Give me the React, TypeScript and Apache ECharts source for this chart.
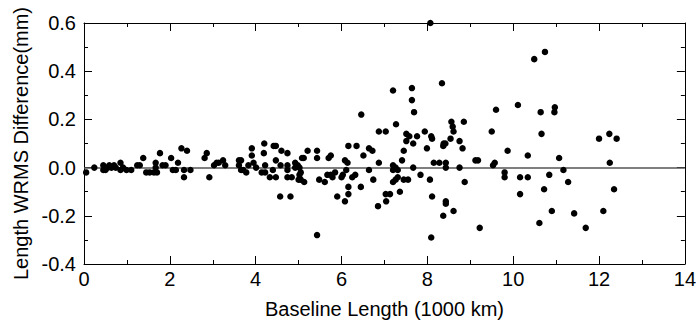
import React, { useEffect, useRef } from "react";
import * as echarts from "echarts";

// [baseline length (1000 km), length WRMS difference (mm)]
const pointsUnder2: [number, number][] = [
  [0.05, -0.02], [0.24, 0.0], [0.45, 0.01], [0.45, -0.01], [0.5, -0.01], [0.55, 0.0],
  [0.59, 0.01], [0.64, 0.0], [0.7, 0.01], [0.74, 0.0], [0.85, 0.02], [0.85, -0.01],
  [0.91, 0.0], [0.99, -0.01], [1.1, -0.01], [1.24, 0.01], [1.3, 0.01], [1.38, 0.04],
  [1.45, -0.02], [1.53, -0.02], [1.63, -0.02], [1.67, 0.02], [1.67, 0.0], [1.77, 0.06],
  [1.7, -0.02], [1.83, 0.01], [1.9, 0.01], [2.03, 0.04], [2.07, -0.01], [2.19, 0.02],
  [2.14, -0.01],
];
const points2to4: [number, number][] = [
  [2.27, 0.08], [2.4, 0.07], [2.33, -0.01], [2.48, -0.01], [2.33, -0.04], [2.81, 0.04],
  [2.86, 0.06], [2.92, -0.04], [3.03, 0.01], [3.09, 0.02], [3.14, 0.02], [3.24, 0.03],
  [3.29, 0.01], [3.61, 0.03], [3.66, 0.03], [3.61, 0.01], [3.66, -0.01], [3.71, -0.01],
  [3.78, -0.02], [3.83, 0.01], [3.91, 0.08], [3.91, 0.05], [3.95, 0.02], [4.01, 0.0],
  [4.2, 0.1], [4.19, 0.06], [4.22, 0.01], [4.14, -0.02], [4.22, -0.02], [4.33, -0.04],
  [4.42, 0.09], [4.4, -0.01],
];
const points4to6: [number, number][] = [
  [4.47, 0.09], [4.6, 0.07], [4.74, 0.06], [4.47, 0.03], [4.58, 0.01], [4.74, 0.01],
  [4.74, -0.01], [4.47, -0.04], [4.74, -0.04], [4.84, -0.04], [4.92, 0.02], [4.92, 0.0],
  [4.98, 0.01], [5.02, 0.0], [5.02, -0.03], [5.05, -0.02], [5.0, -0.05], [5.05, -0.05],
  [5.13, -0.06], [5.08, 0.04], [5.12, 0.04], [5.21, 0.07], [4.57, -0.12], [4.81, -0.12],
  [5.43, 0.07], [5.43, 0.04], [5.43, -0.28], [5.48, -0.05], [5.61, -0.06], [5.7, 0.04],
  [5.75, 0.05], [5.67, -0.03], [5.75, -0.03], [5.79, -0.04], [5.85, -0.02], [5.9, -0.12],
  [6.0, -0.04], [6.03, -0.03], [6.08, 0.03], [6.14, 0.02], [6.11, -0.01], [6.16, -0.08],
  [6.16, -0.11], [6.08, -0.14], [6.16, 0.09], [6.35, 0.09], [6.25, -0.04], [6.32, -0.03],
];
const points6to8: [number, number][] = [
  [8.34, 0.35], [7.2, 0.32], [7.64, 0.33], [7.64, 0.28], [7.69, 0.23], [6.46, 0.22],
  [6.87, 0.15], [7.03, 0.15], [7.27, 0.18], [7.94, 0.15], [7.51, 0.14], [7.58, 0.13],
  [7.76, 0.13], [7.51, 0.11], [7.67, 0.1], [8.09, 0.13], [8.11, 0.12], [7.99, 0.08],
  [6.64, 0.08], [6.72, 0.07], [6.51, 0.05], [7.45, 0.07], [8.37, 0.09], [6.87, 0.02],
  [7.41, 0.03], [7.2, 0.01], [7.2, -0.01], [7.26, 0.0], [7.31, -0.01], [7.67, 0.0],
  [8.15, 0.02], [8.28, 0.02], [6.64, -0.01], [6.74, -0.05], [6.45, -0.08], [7.2, -0.06],
  [7.26, -0.05], [7.31, -0.04], [7.45, -0.05], [7.55, -0.05], [7.36, -0.1], [7.03, -0.11],
  [7.13, -0.11], [7.04, -0.14], [6.85, -0.16], [7.84, -0.03], [8.06, -0.05], [8.11, -0.12],
  [8.09, -0.29], [8.37, -0.2], [8.07, 0.6],
];
const points8to10: [number, number][] = [
  [8.56, 0.19], [8.59, 0.17], [8.61, 0.15], [8.85, 0.19], [9.6, 0.24], [10.11, 0.26],
  [9.5, 0.15], [8.38, 0.1], [8.42, 0.1], [8.54, 0.12], [8.75, 0.11], [8.82, 0.08],
  [9.87, 0.07], [10.34, 0.05], [8.43, 0.02], [8.43, 0.0], [8.75, 0.0], [9.12, 0.03],
  [9.18, 0.03], [9.53, 0.01], [9.57, 0.02], [9.8, -0.02], [9.8, -0.04], [10.16, -0.04],
  [10.34, -0.04], [8.87, -0.06], [10.16, -0.11], [8.43, -0.14], [8.43, -0.15],
  [8.61, -0.18], [9.22, -0.25],
];
const pointsOver10: [number, number][] = [
  [10.49, 0.45], [10.74, 0.48], [10.97, 0.25], [10.96, 0.23], [10.64, 0.23], [10.66, 0.14],
  [12.0, 0.12], [12.24, 0.14], [12.41, 0.12], [11.07, 0.04], [12.25, 0.02], [11.17, -0.01],
  [10.84, -0.03], [11.28, -0.06], [10.72, -0.09], [12.35, -0.09], [10.9, -0.18],
  [11.42, -0.19], [12.1, -0.18], [10.61, -0.23], [11.69, -0.25],
];

const xTicks = { min: 0, max: 14, interval: 2 };
const yTicks = { min: -0.4, max: 0.6, interval: 0.2 };

const FONT = "Liberation Sans, Arial, Helvetica, sans-serif";

export default function App() {
  const ref = useRef<HTMLDivElement>(null);
  useEffect(() => {
    document.body.style.margin = "0";
    if (!ref.current) return;
    const chart = echarts.init(ref.current, undefined, { renderer: "svg" });
    const allPoints = [
      ...pointsUnder2, ...points2to4, ...points4to6,
      ...points6to8, ...points8to10, ...pointsOver10,
    ];
    const frameLine = { show: true, onZero: false, lineStyle: { color: "#000", width: 1 } };
    const tickCommon = { show: true, inside: true, length: 8, lineStyle: { color: "#000", width: 1 } };
    const minorCommon = { show: true, splitNumber: 2, length: 4, lineStyle: { color: "#000", width: 1 } };
    chart.setOption({
      animation: false,
      backgroundColor: "#fff",
      grid: { left: 84, right: 12, top: 23, bottom: 59, containLabel: false },
      xAxis: [
        {
          type: "value", ...xTicks, position: "bottom",
          axisLine: frameLine, axisTick: tickCommon, minorTick: minorCommon,
          splitLine: { show: false },
          axisLabel: { color: "#000", fontSize: 20, fontFamily: FONT, margin: 5 },
          name: "Baseline Length (1000 km)", nameLocation: "middle", nameGap: 35,
          nameTextStyle: { color: "#000", fontSize: 20, fontFamily: FONT },
        },
        {
          type: "value", ...xTicks, position: "top",
          axisLine: frameLine, axisTick: tickCommon, minorTick: minorCommon,
          splitLine: { show: false }, axisLabel: { show: false },
        },
      ],
      yAxis: [
        {
          type: "value", ...yTicks, position: "left",
          axisLine: frameLine, axisTick: tickCommon, minorTick: minorCommon,
          splitLine: { show: false },
          axisLabel: {
            color: "#000", fontSize: 20, fontFamily: FONT, margin: 8,
            formatter: (v: number) => v.toFixed(1),
          },
          name: "Length WRMS Difference(mm)", nameLocation: "middle", nameGap: 47,
          nameTextStyle: { color: "#000", fontSize: 20, fontFamily: FONT },
        },
        {
          type: "value", ...yTicks, position: "right",
          axisLine: frameLine, axisTick: tickCommon, minorTick: minorCommon,
          splitLine: { show: false }, axisLabel: { show: false },
        },
      ],
      series: [
        {
          type: "scatter",
          xAxisIndex: 0,
          yAxisIndex: 0,
          data: allPoints,
          symbol: "circle",
          symbolSize: 6.5,
          itemStyle: { color: "#000", opacity: 1 },
          clip: false,
          silent: true,
          z: 3,
          markLine: {
            silent: true,
            symbol: "none",
            label: { show: false },
            lineStyle: { color: "#555", width: 1.5, type: "solid" },
            data: [{ yAxis: 0 }],
            z: 2,
          },
        },
      ],
    });
    return () => chart.dispose();
  }, []);
  return <div ref={ref} style={{ width: 699, height: 324 }} />;
}
